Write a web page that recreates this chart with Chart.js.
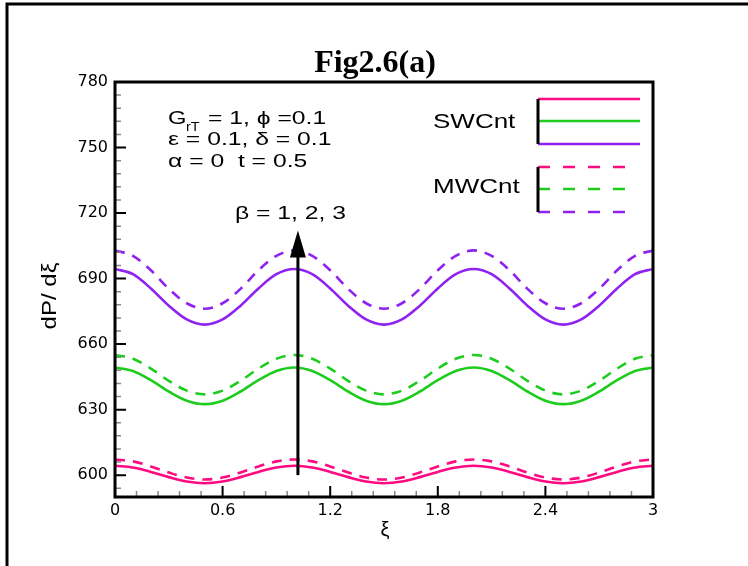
<!DOCTYPE html>
<html>
<head>
<meta charset="utf-8">
<script src="https://cdn.jsdelivr.net/npm/chart.js@4.4.0/dist/chart.umd.min.js"></script>
<style>
  body { margin: 0; background: #fff; }
</style>
</head>
<body>
<canvas id="myChart" width="748" height="566"></canvas>
<script>
// xi positions
var xi = [0, 0.1, 0.2, 0.3, 0.4, 0.5, 0.6, 0.7, 0.8, 0.9, 1.0, 1.1, 1.2, 1.3, 1.4, 1.5,
  1.6, 1.7, 1.8, 1.9, 2.0, 2.1, 2.2, 2.3, 2.4, 2.5, 2.6, 2.7, 2.8, 2.9, 3.0];

// SWCnt (solid) beta = 1, 2, 3
var swBeta1 = [604.3, 603.5, 601.5, 599.1, 597.1, 596.3, 597.1, 599.1, 601.5, 603.5,
  604.3, 603.5, 601.5, 599.1, 597.1, 596.3, 597.1, 599.1, 601.5, 603.5,
  604.3, 603.5, 601.5, 599.1, 597.1, 596.3, 597.1, 599.1, 601.5, 603.5, 604.3];
var swBeta2 = [649.3, 647.7, 643.5, 638.3, 634.1, 632.5, 634.1, 638.3, 643.5, 647.7,
  649.3, 647.7, 643.5, 638.3, 634.1, 632.5, 634.1, 638.3, 643.5, 647.7,
  649.3, 647.7, 643.5, 638.3, 634.1, 632.5, 634.1, 638.3, 643.5, 647.7, 649.3];
var swBeta3 = [694.4, 692.0, 685.5, 677.6, 671.3, 668.9, 671.3, 677.6, 685.5, 692.0,
  694.4, 692.0, 685.5, 677.6, 671.3, 668.9, 671.3, 677.6, 685.5, 692.0,
  694.4, 692.0, 685.5, 677.6, 671.3, 668.9, 671.3, 677.6, 685.5, 692.0, 694.4];

// MWCnt (dashed) beta = 1, 2, 3
var mwBeta1 = [607.2, 606.3, 604.0, 601.2, 598.9, 598.0, 598.9, 601.2, 604.0, 606.3,
  607.2, 606.3, 604.0, 601.2, 598.9, 598.0, 598.9, 601.2, 604.0, 606.3,
  607.2, 606.3, 604.0, 601.2, 598.9, 598.0, 598.9, 601.2, 604.0, 606.3, 607.2];
var mwBeta2 = [655.0, 653.3, 648.8, 643.2, 638.7, 637.0, 638.7, 643.2, 648.8, 653.3,
  655.0, 653.3, 648.8, 643.2, 638.7, 637.0, 638.7, 643.2, 648.8, 653.3,
  655.0, 653.3, 648.8, 643.2, 638.7, 637.0, 638.7, 643.2, 648.8, 653.3, 655.0];
var mwBeta3 = [702.9, 700.4, 693.8, 685.3, 678.7, 676.2, 678.7, 685.3, 693.8, 700.4,
  702.9, 700.4, 693.8, 685.3, 678.7, 676.2, 678.7, 685.3, 693.8, 700.4,
  702.9, 700.4, 693.8, 685.3, 678.7, 676.2, 678.7, 685.3, 693.8, 700.4, 702.9];

var xTicks = [0, 0.6, 1.2, 1.8, 2.4, 3];
var yTicks = [600, 630, 660, 690, 720, 750, 780];

// arrow "beta = 1, 2, 3" in data units
var arrowX = 1.02;
var arrowY = [600, 712];

var pink = "#ff0a80";
var green = "#1ecc1e";
var purple = "#8f22f0";

function pts(ys) {
  return xi.map(function(x, i) { return { x: x, y: ys[i] }; });
}

function line(label, ys, color, dashed) {
  return {
    label: label,
    data: pts(ys),
    borderColor: color,
    backgroundColor: color,
    borderWidth: 2.6,
    borderDash: dashed ? [10, 8] : [],
    pointRadius: 0,
    cubicInterpolationMode: "monotone",
    fill: false
  };
}

function sText(ctx, s, x, y, font, sx) {
  ctx.save();
  ctx.font = font;
  ctx.translate(x, y);
  ctx.scale(sx, 1);
  ctx.fillText(s, 0, 0);
  var w = ctx.measureText(s).width * sx;
  ctx.restore();
  return w;
}

var decor = {
  id: "decor",
  afterDatasetsDraw: function(chart) {
    var ctx = chart.ctx;
    var a = chart.chartArea;
    var xs = chart.scales.x, ys = chart.scales.y;
    ctx.save();

    // outer frame
    ctx.strokeStyle = "#000";
    ctx.lineWidth = 3;
    ctx.beginPath();
    ctx.moveTo(7, 566);
    ctx.lineTo(7, 4);
    ctx.lineTo(748, 4);
    ctx.stroke();

    // minor ticks
    ctx.strokeStyle = "#888";
    ctx.lineWidth = 1.5;
    ctx.beginPath();
    for (var v = 594; v <= 780; v += 6) {
      if ((v - 600) % 30 === 0) continue;
      var py = ys.getPixelForValue(v);
      ctx.moveTo(a.left, py); ctx.lineTo(a.left + 6, py);
    }
    for (var i = 1; i < 25; i++) {
      if (i % 5 === 0) continue;
      var px = xs.getPixelForValue(i * 0.12);
      ctx.moveTo(px, a.bottom); ctx.lineTo(px, a.bottom - 6);
    }
    ctx.stroke();

    // major ticks
    ctx.strokeStyle = "#000";
    ctx.lineWidth = 2;
    ctx.beginPath();
    yTicks.forEach(function(t) {
      var py = ys.getPixelForValue(t);
      ctx.moveTo(a.left, py); ctx.lineTo(a.left + 11, py);
    });
    xTicks.forEach(function(t) {
      var px = xs.getPixelForValue(t);
      ctx.moveTo(px, a.bottom); ctx.lineTo(px, a.bottom - 11);
    });
    ctx.stroke();

    // plot border
    ctx.lineWidth = 3;
    ctx.strokeRect(a.left, a.top, a.right - a.left, a.bottom - a.top);

    // arrow
    var ax = xs.getPixelForValue(arrowX);
    var ay0 = ys.getPixelForValue(arrowY[0]);
    var ay1 = ys.getPixelForValue(arrowY[1]);
    ctx.fillStyle = "#000";
    ctx.lineWidth = 3;
    ctx.beginPath();
    ctx.moveTo(ax, ay0); ctx.lineTo(ax, ay1 + 20);
    ctx.stroke();
    ctx.beginPath();
    ctx.moveTo(ax, ay1);
    ctx.lineTo(ax - 8, ay1 + 27);
    ctx.lineTo(ax + 8, ay1 + 27);
    ctx.closePath();
    ctx.fill();

    // annotation text
    ctx.fillStyle = "#000";
    ctx.textBaseline = "alphabetic";
    ctx.textAlign = "left";
    var f19 = "19px 'Liberation Sans'";
    sText(ctx, "G", 168, 124, f19, 1.25);
    sText(ctx, "rT", 186, 131, "12px 'Liberation Sans'", 1.2);
    sText(ctx, "= 1, \u03d5 =0.1", 208, 124, f19, 1.3);
    sText(ctx, "\u03b5 = 0.1, \u03b4 = 0.1", 168, 145, f19, 1.3);
    sText(ctx, "\u03b1 = 0  t = 0.5", 168, 167, f19, 1.3);
    sText(ctx, "\u03b2 = 1, 2, 3", 235, 219, f19, 1.3);

    // legend
    var f20 = "20px 'Liberation Sans'";
    sText(ctx, "SWCnt", 433, 128, f20, 1.3);
    sText(ctx, "MWCnt", 433, 193, f20, 1.3);
    var solidY = [99, 121, 144], dashY = [167, 189, 212];
    var cols = [pink, green, purple];
    ctx.lineWidth = 2.6;
    for (var k = 0; k < 3; k++) {
      ctx.strokeStyle = cols[k];
      ctx.setLineDash([]);
      ctx.beginPath(); ctx.moveTo(538, solidY[k]); ctx.lineTo(640, solidY[k]); ctx.stroke();
      ctx.setLineDash([12, 13]);
      ctx.beginPath(); ctx.moveTo(538, dashY[k]); ctx.lineTo(628, dashY[k]); ctx.stroke();
    }
    ctx.setLineDash([]);
    ctx.strokeStyle = "#000";
    ctx.lineWidth = 3;
    ctx.beginPath();
    ctx.moveTo(538, 99); ctx.lineTo(538, 144);
    ctx.moveTo(538, 167); ctx.lineTo(538, 212);
    ctx.stroke();

    // title
    ctx.textAlign = "center";
    ctx.font = "bold 32px 'Liberation Serif'";
    ctx.fillText("Fig2.6(a)", 375, 72);

    // axis titles
    ctx.font = "20px 'Liberation Sans'";
    ctx.fillText("\u03be", 385, 536);
    ctx.save();
    ctx.translate(56, 296);
    ctx.rotate(-Math.PI / 2);
    ctx.scale(1.2, 1);
    ctx.font = "20px 'Liberation Sans'";
    ctx.fillText("dP/ d\u03be", 0, 0);
    ctx.restore();

    ctx.restore();
  }
};

window.onload = function() {
  var ctx = document.getElementById("myChart").getContext("2d");
  var chart = new Chart(ctx, {
    type: "line",
    data: {
      datasets: [
        line("SWCnt beta=1", swBeta1, pink, false),
        line("SWCnt beta=2", swBeta2, green, false),
        line("SWCnt beta=3", swBeta3, purple, false),
        line("MWCnt beta=1", mwBeta1, pink, true),
        line("MWCnt beta=2", mwBeta2, green, true),
        line("MWCnt beta=3", mwBeta3, purple, true)
      ]
    },
    options: {
      responsive: false,
      animation: false,
      layout: { padding: { left: 0, top: 82, right: 95, bottom: 29 } },
      plugins: { legend: { display: false }, tooltip: { enabled: false }, title: { display: false } },
      scales: {
        x: {
          type: "linear",
          min: 0,
          max: 3,
          afterBuildTicks: function(s) { s.ticks = xTicks.map(function(v) { return { value: v }; }); },
          afterFit: function(s) { s.height = 40; },
          grid: { display: false, drawTicks: false },
          border: { display: false },
          ticks: {
            color: "#000",
            font: { family: "'DejaVu Sans'", size: 16 },
            padding: 4,
            maxRotation: 0,
            callback: function(v) { return String(v); }
          }
        },
        y: {
          min: 590,
          max: 780,
          afterBuildTicks: function(s) { s.ticks = yTicks.map(function(v) { return { value: v }; }); },
          afterFit: function(s) { s.width = 115; },
          grid: { display: false, drawTicks: false },
          border: { display: false },
          ticks: {
            color: "#000",
            font: { family: "'DejaVu Sans'", size: 16 },
            padding: 7,
            callback: function(v) { return String(v); }
          }
        }
      }
    },
    plugins: [decor]
  });
};
</script>
</body>
</html>
